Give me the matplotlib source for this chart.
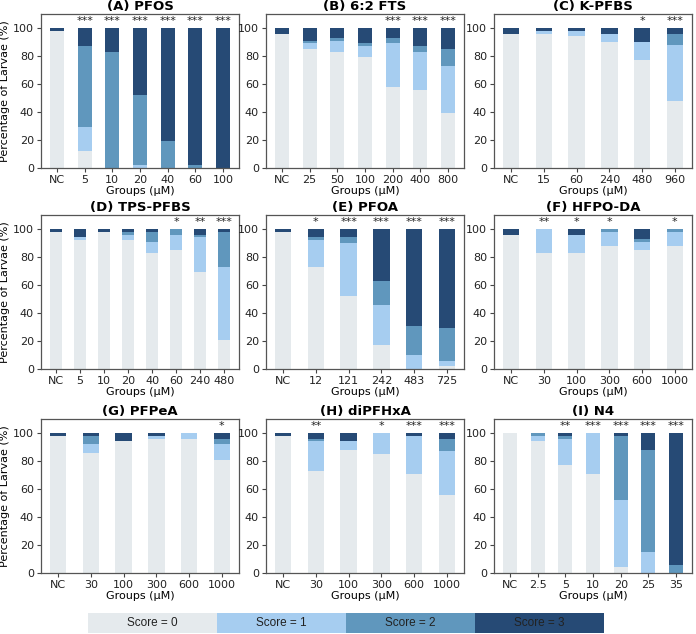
import matplotlib
matplotlib.use("Agg")
import matplotlib.pyplot as plt
import numpy as np

colors = ["#e5eaed", "#a6cdf0", "#6097bd", "#264a75"]
score_labels = ["Score = 0", "Score = 1", "Score = 2", "Score = 3"]

# (A) PFOS
a_groups = ["NC", "5", "10", "20", "40", "60", "100"]
a_s0 = [98, 12, 0, 0, 0, 0, 0]
a_s1 = [0, 17, 0, 2, 0, 0, 0]
a_s2 = [0, 58, 83, 50, 19, 2, 0]
a_s3 = [2, 13, 17, 48, 81, 98, 100]
a_sig = ["", "***", "***", "***", "***", "***", "***"]

# (B) 6:2 FTS
b_groups = ["NC", "25", "50", "100", "200", "400", "800"]
b_s0 = [96, 85, 83, 79, 58, 56, 39]
b_s1 = [0, 4, 8, 8, 31, 27, 34]
b_s2 = [0, 2, 2, 2, 4, 4, 12]
b_s3 = [4, 9, 7, 11, 7, 13, 15]
b_sig = ["", "", "", "", "***", "***", "***"]

# (C) K-PFBS
c_groups = ["NC", "15", "60", "240", "480", "960"]
c_s0 = [96, 96, 94, 90, 77, 48]
c_s1 = [0, 2, 4, 6, 13, 40]
c_s2 = [0, 0, 0, 0, 0, 8]
c_s3 = [4, 2, 2, 4, 10, 4]
c_sig = ["", "", "", "", "*", "***"]

# (D) TPS-PFBS
d_groups = ["NC", "5", "10", "20", "40", "60", "240", "480"]
d_s0 = [98, 92, 98, 92, 83, 85, 69, 21]
d_s1 = [0, 2, 0, 4, 8, 11, 25, 52]
d_s2 = [0, 0, 0, 2, 7, 4, 2, 25]
d_s3 = [2, 6, 2, 2, 2, 0, 4, 2]
d_sig = ["", "", "", "", "", "*", "**", "***"]

# (E) PFOA
e_groups = ["NC", "12", "121", "242", "483", "725"]
e_s0 = [98, 73, 52, 17, 0, 2]
e_s1 = [0, 19, 38, 29, 10, 4]
e_s2 = [0, 2, 4, 17, 21, 23]
e_s3 = [2, 6, 6, 37, 69, 71]
e_sig = ["", "*", "***", "***", "***", "***"]

# (F) HFPO-DA
f_groups = ["NC", "30", "100", "300", "600", "1000"]
f_s0 = [96, 83, 83, 88, 85, 88]
f_s1 = [0, 17, 13, 10, 6, 10]
f_s2 = [0, 0, 0, 2, 2, 2]
f_s3 = [4, 0, 4, 0, 7, 0]
f_sig = ["", "**", "*", "*", "", "*"]

# (G) PFPeA
g_groups = ["NC", "30", "100", "300", "600", "1000"]
g_s0 = [98, 86, 94, 96, 96, 81]
g_s1 = [0, 6, 0, 2, 4, 11]
g_s2 = [0, 6, 0, 0, 0, 4]
g_s3 = [2, 2, 6, 2, 0, 4]
g_sig = ["", "", "", "", "", "*"]

# (H) diPFHxA
h_groups = ["NC", "30", "100", "300", "600", "1000"]
h_s0 = [98, 73, 88, 85, 71, 56]
h_s1 = [0, 21, 6, 15, 27, 31]
h_s2 = [0, 2, 0, 0, 0, 9]
h_s3 = [2, 4, 6, 0, 2, 4]
h_sig = ["", "**", "", "*", "***", "***"]

# (I) N4
i_groups = ["NC", "2.5", "5", "10", "20", "25", "35"]
i_s0 = [100, 94, 77, 71, 4, 0, 0]
i_s1 = [0, 4, 19, 29, 48, 15, 0]
i_s2 = [0, 2, 2, 0, 46, 73, 6]
i_s3 = [0, 0, 2, 0, 2, 12, 94]
i_sig = ["", "", "**", "***", "***", "***", "***"]

panels = [
    ("(A) PFOS", a_groups, [a_s0, a_s1, a_s2, a_s3], a_sig),
    ("(B) 6:2 FTS", b_groups, [b_s0, b_s1, b_s2, b_s3], b_sig),
    ("(C) K-PFBS", c_groups, [c_s0, c_s1, c_s2, c_s3], c_sig),
    ("(D) TPS-PFBS", d_groups, [d_s0, d_s1, d_s2, d_s3], d_sig),
    ("(E) PFOA", e_groups, [e_s0, e_s1, e_s2, e_s3], e_sig),
    ("(F) HFPO-DA", f_groups, [f_s0, f_s1, f_s2, f_s3], f_sig),
    ("(G) PFPeA", g_groups, [g_s0, g_s1, g_s2, g_s3], g_sig),
    ("(H) diPFHxA", h_groups, [h_s0, h_s1, h_s2, h_s3], h_sig),
    ("(I) N4", i_groups, [i_s0, i_s1, i_s2, i_s3], i_sig),
]

W, H = 696, 634
fig = plt.figure(figsize=(W / 100, H / 100), dpi=100)
plt.rcParams['font.family'] = ['DejaVu Sans']

col_left = [41, 266, 494]
col_w = 198
row_top = [14, 215, 419]
row_h = 154
fs = 8

for idx, (title, groups, series, sig) in enumerate(panels):
    r, c = divmod(idx, 3)
    ax = fig.add_axes([col_left[c] / W, 1 - (row_top[r] + row_h) / H, col_w / W, row_h / H])
    x = np.arange(len(groups))
    bottom = np.zeros(len(groups))
    for k, s in enumerate(series):
        s = np.array(s, dtype=float)
        ax.bar(x, s, width=0.5, bottom=bottom, color=colors[k], edgecolor='none')
        bottom += s
    for xi, st in zip(x, sig):
        if st:
            ax.text(xi, 101.5, st, ha='center', va='bottom', fontsize=fs, color='#222222')
    ax.set_ylim(0, 110)
    ax.set_yticks([0, 20, 40, 60, 80, 100])
    ax.set_xticks(x)
    ax.set_xticklabels(groups)
    ax.tick_params(labelsize=fs, length=3, pad=2, color='#444444', labelcolor='#222222')
    for sp in ax.spines.values():
        sp.set_color('#555555')
        sp.set_linewidth(0.9)
    ax.set_title(title, fontsize=9.5, fontweight='bold', pad=3)
    ax.set_xlabel("Groups (μM)", fontsize=fs, labelpad=1)
    if c == 0:
        ax.set_ylabel("Percentage of Larvae (%)", fontsize=fs, labelpad=2)

# legend strip
lx0, lx1, ly0, ly1 = 88, 604, 613, 633
lax = fig.add_axes([lx0 / W, 1 - ly1 / H, (lx1 - lx0) / W, (ly1 - ly0) / H])
for k in range(4):
    lax.barh(0, 1, left=k, height=1, color=colors[k], edgecolor='none')
    lax.text(k + 0.5, 0, score_labels[k], ha='center', va='center', fontsize=8.5,
             color='#222222', family='Liberation Sans')
lax.set_xlim(0, 4)
lax.set_ylim(-0.5, 0.5)
lax.axis('off')

fig.savefig("out.png", dpi=100)
